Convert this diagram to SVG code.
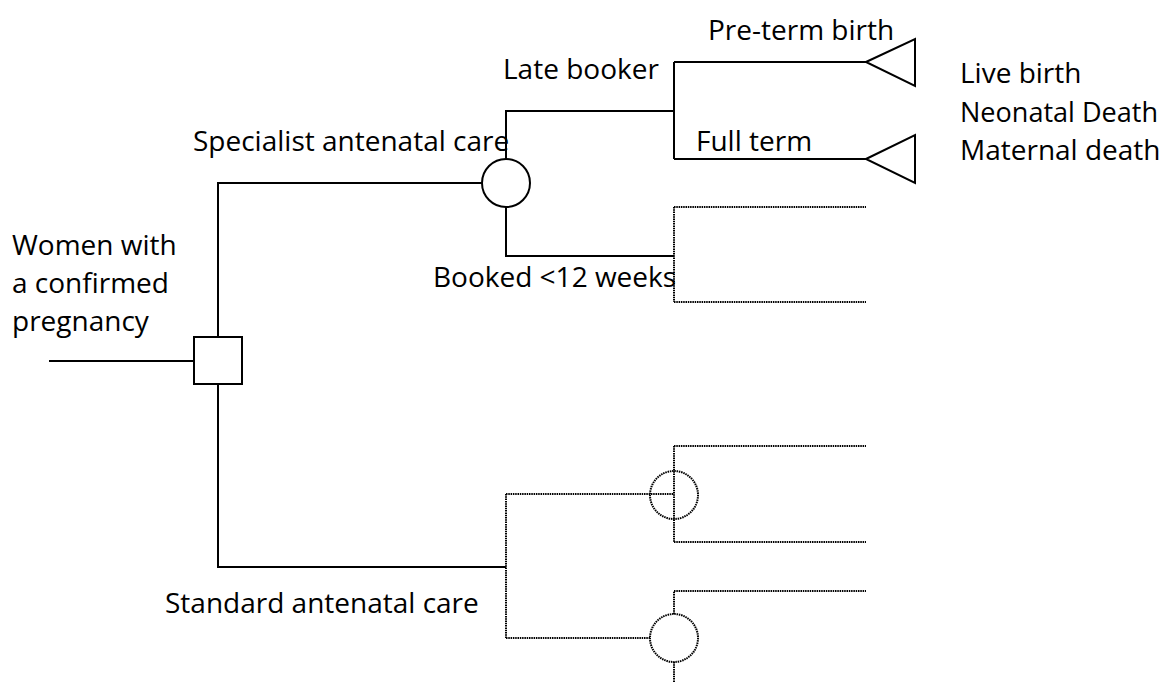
<svg xmlns="http://www.w3.org/2000/svg" width="1164" height="682" viewBox="0 0 1164 682">
<style>
  .t { font-family: "Open Sans", "Noto Sans", sans-serif; font-size: 28px; fill: #000; }
  .s { fill: none; stroke: #000; stroke-width: 2; }
  .d { fill: none; stroke: #000; stroke-width: 2; stroke-dasharray: 1.5 0.8; }
  .n { fill: #fff; stroke: #000; stroke-width: 2; }
  .nd { fill: none; stroke: #000; stroke-width: 2; stroke-dasharray: 1.5 0.8; }
</style>
<rect width="1164" height="682" fill="#fff"/>
<g id="connectors">
  <path class="s" d="M49 361 H194"/>
  <path class="s" d="M218 336 V183 H482"/>
  <path class="s" d="M218 384 V567 H506"/>
  <path class="s" d="M506 159 V111 H674"/>
  <path class="s" d="M674 62 V159"/>
  <path class="s" d="M674 62 H866"/>
  <path class="s" d="M674 159 H866"/>
  <path class="s" d="M506 207 V256 H674"/>
  <path class="d" d="M674 207 V302"/>
  <path class="d" d="M674 207 H866"/>
  <path class="d" d="M674 302 H866"/>
  <path class="d" d="M506 494 V638"/>
  <path class="d" d="M506 494 H674"/>
  <path class="d" d="M674 446 V542"/>
  <path class="d" d="M674 446 H866"/>
  <path class="d" d="M674 542 H866"/>
  <path class="d" d="M506 638 H650"/>
  <path class="d" d="M674 614 V591 H866"/>
  <path class="d" d="M674 662 V682"/>
</g>
<g id="decision">
  <rect class="n" x="194" y="337" width="48" height="47"/>
</g>
<g id="chance-specialist">
  <circle class="n" cx="506" cy="183" r="24"/>
</g>
<g id="chance-standard-1">
  <circle class="nd" cx="674" cy="495" r="24"/>
</g>
<g id="chance-standard-2">
  <circle class="nd" cx="674" cy="638" r="24"/>
</g>
<g id="terminal-preterm">
  <polygon class="n" points="866,62 915,39 915,86"/>
</g>
<g id="terminal-fullterm">
  <polygon class="n" points="866,159 915,135 915,183"/>
</g>
<g id="labels">
  <text class="t" x="12" y="255">Women with</text>
  <text class="t" x="12" y="293">a confirmed</text>
  <text class="t" x="12" y="331">pregnancy</text>
  <text class="t" x="193" y="151">Specialist antenatal care</text>
  <text class="t" x="503" y="79">Late booker</text>
  <text class="t" x="708" y="40">Pre-term birth</text>
  <text class="t" x="696" y="151">Full term</text>
  <text class="t" x="433" y="287">Booked &lt;12 weeks</text>
  <text class="t" x="960" y="83">Live birth</text>
  <text class="t" x="960" y="122" textLength="198" lengthAdjust="spacingAndGlyphs">Neonatal Death</text>
  <text class="t" x="960" y="160">Maternal death</text>
  <text class="t" x="165" y="613">Standard antenatal care</text>
</g>
</svg>
